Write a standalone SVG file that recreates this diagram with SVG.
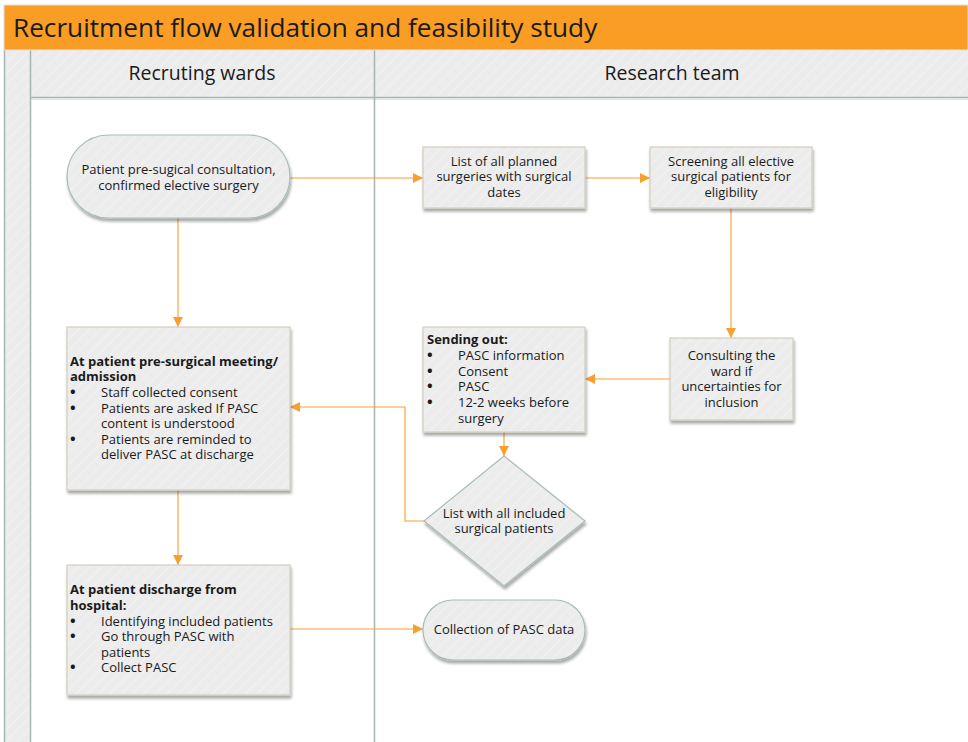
<svg xmlns="http://www.w3.org/2000/svg" width="968" height="742" viewBox="0 0 968 742">
  <defs>
    <pattern id="hatch" width="8" height="8" patternUnits="userSpaceOnUse" patternTransform="rotate(45)">
      <rect width="8" height="8" fill="#ECECEC"/>
      <line x1="0" y1="0" x2="0" y2="8" stroke="#F4F4F4" stroke-width="1.5"/>
    </pattern>
    <filter id="shadow" x="-10%" y="-10%" width="125%" height="130%">
      <feGaussianBlur in="SourceAlpha" stdDeviation="1.5"/>
      <feOffset dx="1" dy="2.5" result="b"/>
      <feComponentTransfer><feFuncA type="linear" slope="0.35"/></feComponentTransfer>
      <feMerge><feMergeNode/><feMergeNode in="SourceGraphic"/></feMerge>
    </filter>
    <marker id="arrow" viewBox="0 0 10 10" refX="10" refY="5" markerWidth="10" markerHeight="10" markerUnits="userSpaceOnUse" orient="auto">
      <path d="M0,0 L10,5 L0,10 z" fill="#F7A030"/>
    </marker>
  </defs>
  <style>
    text { font-family: "Open Sans", "Noto Sans", "DejaVu Sans", sans-serif; fill: #1a1a1a; }
    .lbl { font-size: 13px; text-anchor: middle; }
    .body { font-size: 13px; }
    .bold { font-weight: bold; }
    .dot { font-size: 15px; font-weight: bold; }
    .box { fill: url(#hatch); stroke: #D3CEBE; stroke-width: 1.2; filter: url(#shadow); }
    .term { fill: url(#hatch); stroke: #A8BDB6; stroke-width: 1.2; filter: url(#shadow); }
    .lane { fill: none; stroke: #A3B8B1; stroke-width: 1.5; }
    .edge { fill: none; stroke: #F7A030; stroke-width: 1.1; marker-end: url(#arrow); }
  </style>

  <!-- swimlane frame -->
  <g id="frame">
    <rect x="0" y="0" width="968" height="742" fill="#FFFFFF"/>
    <rect x="4" y="50" width="26" height="692" fill="url(#hatch)"/>
    <rect x="30" y="50" width="938" height="47" fill="url(#hatch)"/>
    <line x1="30" y1="97.5" x2="968" y2="97.5" stroke="#A3B8B1" stroke-width="1.5"/>
    <line x1="30" y1="99" x2="968" y2="99" stroke="#D9E2DF" stroke-width="1.5"/>
    <line class="lane" x1="4.5" y1="50" x2="4.5" y2="742"/>
    <line class="lane" x1="30.5" y1="50" x2="30.5" y2="742"/>
    <line class="lane" x1="374.5" y1="50" x2="374.5" y2="742"/>
    <rect x="4" y="5" width="964" height="45" fill="#F99D25" stroke="#E0E0E0" stroke-width="1"/>
    <text x="13" y="37" style="font-size:26.2px">Recruitment flow validation and feasibility study</text>
    <text x="202" y="80" style="font-size:19.5px;text-anchor:middle">Recruting wards</text>
    <text x="672" y="80" style="font-size:19.5px;text-anchor:middle">Research team</text>
  </g>

  <!-- connectors -->
  <g id="connectors">
    <path class="edge" d="M290,178 H423"/>
    <path class="edge" d="M585,178 H650"/>
    <path class="edge" d="M178,218 V327"/>
    <path class="edge" d="M731,208 V338"/>
    <path class="edge" d="M670,379 H585"/>
    <path class="edge" d="M504,432 V456"/>
    <path class="edge" d="M424,521 H405 V407 H290"/>
    <path class="edge" d="M178,490 V565"/>
    <path class="edge" d="M290,629 H423"/>
  </g>

  <!-- nodes -->
  <g id="consultation">
    <rect class="term" x="67" y="135" width="223" height="83" rx="41.5" ry="41.5"/>
    <text class="lbl" x="178.5" y="174">Patient pre-sugical consultation,</text>
    <text class="lbl" x="178.5" y="190">confirmed elective surgery</text>
  </g>

  <g id="planned-list">
    <rect class="box" x="423" y="147" width="162" height="61"/>
    <text class="lbl" x="504" y="166">List of all planned</text>
    <text class="lbl" x="504" y="181">surgeries with surgical</text>
    <text class="lbl" x="504" y="197">dates</text>
  </g>

  <g id="screening">
    <rect class="box" x="650" y="147" width="162" height="61"/>
    <text class="lbl" x="731" y="166">Screening all elective</text>
    <text class="lbl" x="731" y="181">surgical patients for</text>
    <text class="lbl" x="731" y="197">eligibility</text>
  </g>

  <g id="admission">
    <rect class="box" x="67" y="327" width="223" height="163"/>
    <text class="body bold" x="70" y="366">At patient pre-surgical meeting/</text>
    <text class="body bold" x="70" y="381">admission</text>
    <text class="dot" x="70" y="397">•</text><text class="body" x="101" y="397">Staff collected consent</text>
    <text class="dot" x="70" y="413">•</text><text class="body" x="101" y="413">Patients are asked If PASC</text>
    <text class="body" x="101" y="428">content is understood</text>
    <text class="dot" x="70" y="444">•</text><text class="body" x="101" y="444">Patients are reminded to</text>
    <text class="body" x="101" y="459">deliver PASC at discharge</text>
  </g>

  <g id="sending-out">
    <rect class="box" x="423" y="327" width="162" height="105"/>
    <text class="body bold" x="427" y="344">Sending out:</text>
    <text class="dot" x="427" y="360">•</text><text class="body" x="458" y="360">PASC information</text>
    <text class="dot" x="427" y="376">•</text><text class="body" x="458" y="376">Consent</text>
    <text class="dot" x="427" y="391">•</text><text class="body" x="458" y="391">PASC</text>
    <text class="dot" x="427" y="407">•</text><text class="body" x="458" y="407">12-2 weeks before</text>
    <text class="body" x="458" y="423">surgery</text>
  </g>

  <g id="consulting-ward">
    <rect class="box" x="670" y="338" width="123" height="82"/>
    <text class="lbl" x="731.5" y="360">Consulting the</text>
    <text class="lbl" x="731.5" y="376">ward if</text>
    <text class="lbl" x="731.5" y="391">uncertainties for</text>
    <text class="lbl" x="731.5" y="407">inclusion</text>
  </g>

  <g id="included-list">
    <polygon class="term" points="504,456 585,521 504,586 424,521"/>
    <text class="lbl" x="504" y="518">List with all included</text>
    <text class="lbl" x="504" y="533">surgical patients</text>
  </g>

  <g id="discharge">
    <rect class="box" x="67" y="565" width="223" height="130"/>
    <text class="body bold" x="70" y="594">At patient discharge from</text>
    <text class="body bold" x="70" y="610">hospital:</text>
    <text class="dot" x="70" y="626">•</text><text class="body" x="101" y="626">Identifying included patients</text>
    <text class="dot" x="70" y="641">•</text><text class="body" x="101" y="641">Go through PASC with</text>
    <text class="body" x="101" y="657">patients</text>
    <text class="dot" x="70" y="672">•</text><text class="body" x="101" y="672">Collect PASC</text>
  </g>

  <g id="collection">
    <rect class="term" x="423" y="600" width="162" height="60" rx="30" ry="30"/>
    <text class="lbl" x="504" y="634">Collection of PASC data</text>
  </g>
</svg>
